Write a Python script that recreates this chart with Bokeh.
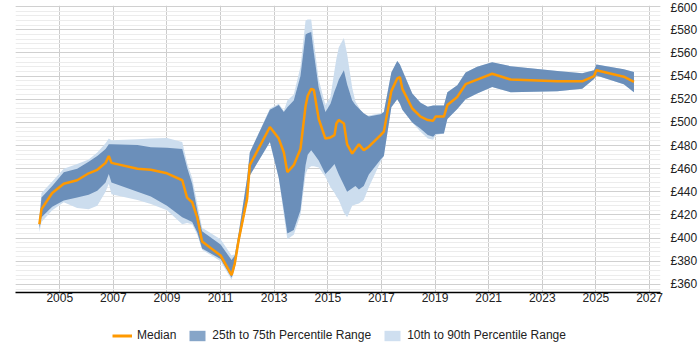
from bokeh.plotting import figure
from bokeh.layouts import column
from bokeh.models import (ColumnDataSource, Legend, LegendItem, FixedTicker,
                          SingleIntervalTicker, Range1d, PrintfTickFormatter)
from bokeh.embed import file_html
from bokeh.resources import INLINE

years = [2004.24, 2004.32, 2004.72, 2005.15, 2005.65, 2006.08, 2006.40, 2006.71, 2006.83, 2006.93,
         2007.90, 2008.40, 2009.00, 2009.57, 2009.75, 2009.94, 2010.13, 2010.31, 2011.00, 2011.41,
         2011.53, 2011.68, 2011.99, 2012.09, 2012.84, 2013.17, 2013.36, 2013.49, 2013.73, 2013.98,
         2014.17, 2014.25, 2014.38, 2014.48, 2014.66, 2014.91, 2015.10, 2015.25, 2015.32, 2015.41,
         2015.60, 2015.72, 2015.91, 2016.03, 2016.16, 2016.34, 2016.53, 2016.97, 2017.09, 2017.37,
         2017.59, 2017.69, 2017.78, 2018.15, 2018.46, 2018.73, 2018.93, 2019.02, 2019.33, 2019.46,
         2019.83, 2020.14, 2020.57, 2021.13, 2021.82, 2023.56, 2024.49, 2024.93, 2025.02, 2026.04,
         2026.42]

median = [412, 425, 439, 447, 450, 456, 459, 465, 471, 465,
          460, 459, 456, 450, 435, 431, 418, 397, 385, 368,
          378, 399, 434, 463, 496, 486, 474, 457, 463, 477,
          514, 523, 529, 528, 503, 486, 487, 489, 499, 502,
          499, 481, 473, 477, 481, 476, 479, 489, 492, 527,
          538, 539, 529, 512, 505, 502, 501.5, 505, 505, 515,
          522, 533, 537, 542, 537, 535.5, 535.5, 540, 545, 539.5,
          535]

p75 = [416, 435, 445, 457, 460, 466, 471, 477, 481, 481,
       480.5, 478.5, 478, 477, 461, 447, 424, 406, 394.5, 381,
       385, 405, 452, 474, 511, 515, 509, 513, 519, 540,
       576, 577, 578, 560, 530, 509, 516, 527, 531, 537,
       545, 533, 519, 515, 512, 508, 505, 507, 509, 543,
       553, 550, 545, 525, 517, 513.5, 514.5, 514.5, 514.5, 526,
       532, 543, 548, 552, 548.5, 544.5, 542.5, 545, 550, 546,
       543.5]

p25 = [408, 418, 427, 432.5, 435, 437.5, 441, 448, 455.5, 448,
       440, 436, 428, 418, 416, 414, 405, 391, 382, 366,
       375, 395, 431, 454, 483, 452, 424, 404, 407, 424,
       463, 472, 476, 473, 467, 455.5, 460, 464, 460, 455,
       446, 440, 443, 445, 442, 445, 455, 468, 471, 513,
       520, 516, 511, 500, 494.5, 489, 487.5, 490, 490.5, 503,
       511.5, 520, 525, 530.5, 526, 527, 529, 537.5, 540.5, 533,
       526]

p90 = [418, 439, 449, 460, 464, 468, 474, 482, 486, 484.5,
       485.5, 486, 486.5, 483, 465, 452, 430, 409, 399, 385,
       386, 405, 452, 474, 512, 516, 510, 519, 524, 548,
       588, 589, 589, 570, 537, 515, 522, 545, 555, 565,
       573, 559, 530, 518, 513, 505, 506, 508, 509, 543,
       553, 550, 545, 525, 517, 513.5, 514.5, 514.5, 514.5, 526,
       532, 543, 548, 552, 548.5, 544.5, 542.5, 545, 550, 546,
       543.5]

p10 = [405, 414, 424, 431, 426, 425, 428, 440, 447, 438,
       433, 429.5, 424, 412, 413, 412, 403, 390, 380, 364,
       373, 395, 431, 454, 483, 452, 420, 399, 403, 420,
       455, 460, 462, 462, 461, 453, 444, 439, 436, 433,
       422, 418, 428, 429, 430, 433, 444, 466, 471, 513,
       520, 516, 511, 500, 492, 486, 485, 489, 490.5, 503,
       511.5, 520, 525, 530.5, 526, 527, 529, 537.5, 540.5, 533,
       526]

x_ticks = [2005, 2007, 2009, 2011, 2013, 2015, 2017, 2019, 2021, 2023, 2025, 2027]
labels = ["Median", "25th to 75th Percentile Range", "10th to 90th Percentile Range"]

src = ColumnDataSource(dict(x=years, med=median, p25=p25, p75=p75, p10=p10, p90=p90))

FONT = "Liberation Sans"
ORANGE = "#ff9900"
DARK = "#6b8fba"
LIGHT = "#ccddee"
LEG_DARK = "#86a5c8"
LEG_LIGHT = "#cfdff0"

p = figure(width=700, height=312, output_backend="svg", toolbar_location=None,
           x_range=Range1d(2003.35, 2027.41), y_range=Range1d(353, 601),
           y_axis_location="right",
           min_border_left=15, min_border_right=10, min_border_top=5, min_border_bottom=20)
p.outline_line_color = None
p.background_fill_color = "white"
p.border_fill_color = "white"

p.varea(x="x", y1="p10", y2="p90", source=src, fill_color=LIGHT, fill_alpha=1)
p.varea(x="x", y1="p25", y2="p75", source=src, fill_color=DARK, fill_alpha=1)
p.line(x="x", y="med", source=src, line_color=ORANGE, line_width=2.5)

xa = p.xaxis[0]
xa.ticker = FixedTicker(ticks=x_ticks)
xa.axis_line_color = "black"
xa.axis_line_width = 1.5
xa.major_tick_line_color = None
xa.minor_tick_line_color = None
xa.major_tick_out = 0
xa.major_label_text_font = FONT
xa.major_label_text_font_size = "12px"
xa.major_label_text_color = "#222222"
xa.major_label_standoff = 0

ya = p.yaxis[0]
ya.ticker = SingleIntervalTicker(interval=20, num_minor_ticks=5)
ya.formatter = PrintfTickFormatter(format="£%d")
ya.axis_line_color = None
ya.major_tick_line_color = None
ya.minor_tick_line_color = None
ya.major_tick_out = 0
ya.major_label_text_font = FONT
ya.major_label_text_font_size = "12px"
ya.major_label_text_color = "#222222"
ya.major_label_standoff = 6

p.xgrid[0].grid_line_color = "#cccccc"
p.xgrid[0].grid_line_width = 1
p.ygrid[0].grid_line_color = "#d0d0d0"
p.ygrid[0].minor_grid_line_color = "#ececec"
p.ygrid[0].grid_line_width = 1

# legend strip: hosts legend glyphs only (its ranges keep the data out of view)
lp = figure(width=700, height=38, output_backend="svg", toolbar_location=None,
            x_range=Range1d(0, 1), y_range=Range1d(0, 1),
            min_border_left=0, min_border_right=0, min_border_top=0, min_border_bottom=0)
lp.axis.visible = False
lp.grid.visible = False
lp.outline_line_color = None
lp.border_fill_color = "white"
l_med = lp.line(x="x", y="med", source=src, line_color=ORANGE, line_width=3)
l_dark = lp.varea(x="x", y1="p25", y2="p75", source=src, fill_color=LEG_DARK)
l_light = lp.varea(x="x", y1="p10", y2="p90", source=src, fill_color=LEG_LIGHT)

legend = Legend(items=[
    LegendItem(label=labels[0], renderers=[l_med]),
    LegendItem(label=labels[1], renderers=[l_dark]),
    LegendItem(label=labels[2], renderers=[l_light]),
], orientation="horizontal", location=(97, 8))
legend.label_text_font = FONT
legend.label_text_font_size = "12px"
legend.label_text_color = "#222222"
legend.border_line_color = None
legend.background_fill_alpha = 0
legend.glyph_width = 20
legend.glyph_height = 13
legend.spacing = 11
legend.label_standoff = 5
legend.padding = 4
legend.margin = 0
lp.add_layout(legend, "center")

layout = column(p, lp, spacing=0)
open("out.html", "w").write(file_html(layout, INLINE))
